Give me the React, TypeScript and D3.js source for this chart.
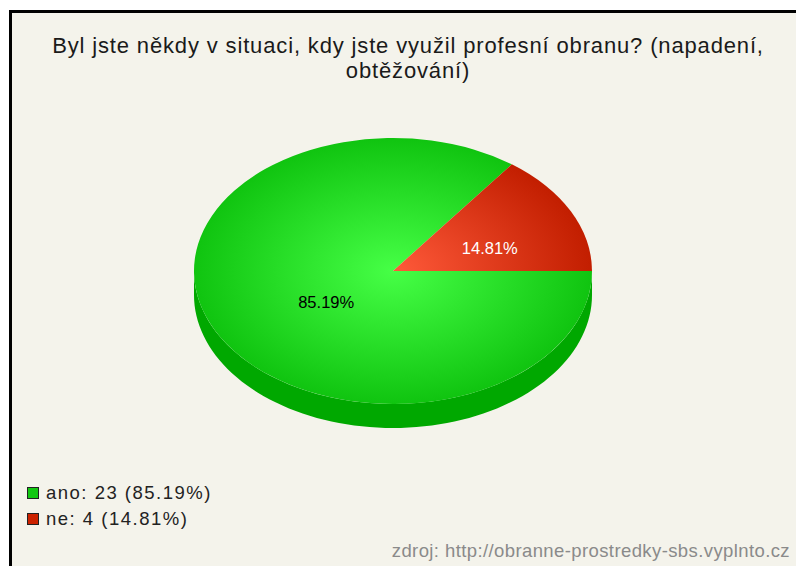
import { useEffect, useRef } from "react";
import * as d3 from "d3";

// answers
const categories = ["ano", "ne"];
const counts = [23, 4];
const percents = ["85.19%", "14.81%"];

const titleLines = [
  "Byl jste někdy v situaci, kdy jste využil profesní obranu? (napadení,",
  "obtěžování)",
];
const sourceText = "zdroj: http://obranne-prostredky-sbs.vyplnto.cz";

export default function App() {
  const ref = useRef<SVGSVGElement>(null);

  useEffect(() => {
    const svg = d3.select(ref.current);
    svg.selectAll("*").remove();

    const W = 796, H = 566;
    const cx = 393, cy = 271;
    const rx = 199, ry = 133, depth = 24;
    const font = "'Liberation Sans', Arial, sans-serif";

    const tops = [
      { id: "g-ano", c0: "#46ff46", c1: "#10c410", side: "#00a800", label: "#000", key: "#12c812" },
      { id: "g-ne", c0: "#ff5a3a", c1: "#c21e00", side: "#8a1600", label: "#fff", key: "#cc2200" },
    ];

    // frame + background
    svg.append("rect").attr("width", W).attr("height", H).attr("fill", "#fff");
    svg.append("rect")
      .attr("x", 10.5).attr("y", 11.5)
      .attr("width", 810).attr("height", 570)
      .attr("fill", "#f4f3eb")
      .attr("stroke", "#000")
      .attr("stroke-width", 3);

    const defs = svg.append("defs");
    tops.forEach(t => {
      const g = defs.append("radialGradient")
        .attr("id", t.id)
        .attr("gradientUnits", "userSpaceOnUse")
        .attr("cx", 0).attr("cy", 0).attr("r", rx);
      g.append("stop").attr("offset", "0%").attr("stop-color", t.c0);
      g.append("stop").attr("offset", "100%").attr("stop-color", t.c1);
    });

    const pie = d3.pie<number>()
      .sort(null)
      .startAngle(Math.PI / 2)
      .endAngle(Math.PI / 2 + 2 * Math.PI);
    const arcs = pie(counts);

    const k = ry / rx;
    const px = (a: number) => cx + rx * Math.sin(a);
    const py = (a: number, dy = 0) => cy - ry * Math.cos(a) + dy;

    // sides (front half only)
    const sideG = svg.append("g");
    arcs.forEach((d, i) => {
      const a0 = Math.max(d.startAngle, Math.PI / 2);
      const a1 = Math.min(d.endAngle, 1.5 * Math.PI);
      if (a1 <= a0) return;
      const n = 80;
      const topPts: [number, number][] = [];
      const botPts: [number, number][] = [];
      for (let j = 0; j <= n; j++) {
        const a = a0 + (a1 - a0) * j / n;
        topPts.push([px(a), py(a)]);
        botPts.push([px(a), py(a, depth)]);
      }
      const pts = topPts.concat(botPts.reverse());
      sideG.append("path")
        .attr("d", d3.line()(pts) + "Z")
        .attr("fill", tops[i].side);
    });

    // top surface
    const arc = d3.arc<d3.PieArcDatum<number>>().innerRadius(0).outerRadius(rx);
    const topG = svg.append("g")
      .attr("transform", `translate(${cx},${cy}) scale(1,${k})`);
    topG.selectAll("path")
      .data(arcs)
      .join("path")
      .attr("d", arc)
      .attr("fill", (d, i) => `url(#${tops[i].id})`);

    // percent labels
    const lr = rx * 0.46;
    const labelArc = d3.arc<d3.PieArcDatum<number>>().innerRadius(lr).outerRadius(lr);
    svg.append("g")
      .selectAll("text")
      .data(arcs)
      .join("text")
      .attr("x", d => cx + 15 + labelArc.centroid(d)[0])
      .attr("y", d => cy + labelArc.centroid(d)[1] * k + 10)
      .attr("text-anchor", "middle")
      .attr("font-family", font)
      .attr("font-size", 16)
      .attr("textLength", 56)
      .attr("lengthAdjust", "spacingAndGlyphs")
      .attr("fill", (d, i) => tops[i].label)
      .text((d, i) => percents[i]);

    // title
    svg.append("g")
      .selectAll("text")
      .data(titleLines)
      .join("text")
      .attr("x", 408)
      .attr("y", (d, i) => 53 + i * 25)
      .attr("text-anchor", "middle")
      .attr("font-family", font)
      .attr("font-size", 22)
      .attr("letter-spacing", 0.85)
      .attr("fill", "#1a1a1a")
      .text(d => d);

    // legend
    const leg = svg.append("g");
    categories.forEach((c, i) => {
      const y = 487 + i * 26;
      leg.append("rect")
        .attr("x", 27.5).attr("y", y + 0.5)
        .attr("width", 11).attr("height", 11)
        .attr("fill", tops[i].key)
        .attr("stroke", "#222");
      leg.append("text")
        .attr("x", 46).attr("y", y + 12)
        .attr("font-family", font)
        .attr("font-size", 18.5)
        .attr("letter-spacing", 1.5)
        .attr("fill", "#222")
        .text(`${c}: ${counts[i]} (${percents[i]})`);
    });

    // source
    svg.append("text")
      .attr("x", 790).attr("y", 557)
      .attr("text-anchor", "end")
      .attr("font-family", font)
      .attr("font-size", 18.5)
      .attr("letter-spacing", 0.4)
      .attr("fill", "#8a8a8a")
      .text(sourceText);
  }, []);

  return (
    <div style={{ position: "fixed", left: 0, top: 0 }}>
      <svg ref={ref} width={796} height={566} style={{ display: "block" }} />
    </div>
  );
}
